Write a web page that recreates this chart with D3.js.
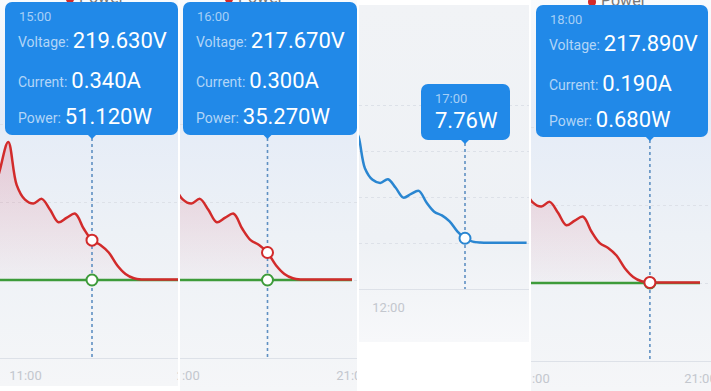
<!DOCTYPE html>
<html>
<head>
<meta charset="utf-8">
<script src="https://cdn.jsdelivr.net/npm/d3@7"></script>
<style>
  body { margin: 0; background: #fff; font-family: Roboto, "Noto Sans", sans-serif; }
  svg { display: block; }
</style>
</head>
<body>
<svg id="chart" width="711" height="391"></svg>
<script>
// half-hourly power readings (W)
const hours = [9, 9.5, 10, 10.5, 11, 11.5, 12, 12.5, 13, 13.5, 14, 14.5, 15, 15.5, 16, 16.5, 17, 17.5, 18, 18.5, 19, 19.5, 20, 20.5, 21];
const power = [95, 141, 177, 122, 103, 98, 104, 90, 74, 80, 85, 66, 51.12, 45, 35.27, 19, 7.76, 2.2, 0.68, 0.6, 0.6, 0.6, 0.6, 0.6, 0.6];
const gridPower = [0, 0, 0, 0, 0, 0, 0, 0, 0, 0, 0, 0, 0, 0, 0, 0, 0, 0, 0, 0, 0, 0, 0, 0, 0];

// tooltip readings, one per screenshot
const readingHours = [15, 16, 17, 18];
const readingLabels = ["15:00", "16:00", "17:00", "18:00"];
const voltages = [219.63, 217.67, null, 217.89];
const currents = [0.34, 0.3, null, 0.19];
const powerReadings = [51.12, 35.27, 7.76, 0.68];

const axisTicks = [11, 21];
const axisTicksBlue = [12];

const RED = "#d22b2b";
const GREEN = "#3d9b3a";
const BLUE = "#2a86d1";
const TIP = "#2189e8";

const panels = [
  { left: 0, right: 178, top: 0, bottom: 386, ticks: axisTicks, xDomain: [11, 21], xRange: [25, 192.5],
    yDomain: [-100, 200], gridStep: 100, axisY: 358, topY: 124, labelY: 380,
    tip: { x: 5, y: 2, w: 173, h: 133 }, legendX: 70, legendY: 3, color: RED, bg: "bgRed" },
  { left: 180, right: 357, top: 0, bottom: 391, ticks: axisTicks, xDomain: [11, 21], xRange: [183, 352],
    yDomain: [-100, 200], gridStep: 100, axisY: 358, topY: 124, labelY: 380,
    tip: { x: 183, y: 2, w: 174, h: 133 }, legendX: 229, legendY: 3, color: RED, bg: "bgRed" },
  { left: 359, right: 529, top: 5, bottom: 342, ticks: axisTicksBlue, xDomain: [12, 17], xRange: [388, 465],
    yDomain: [-75, 225], gridStep: 75, axisY: 289, topY: 105, labelY: 312,
    tip: { x: 421, y: 84, w: 89, h: 56 }, legendX: null, color: BLUE, bg: "bgBlue" },
  { left: 531, right: 711, top: 0, bottom: 391, ticks: axisTicks, xDomain: [11, 21], xRange: [533, 700],
    yDomain: [-100, 200], gridStep: 100, axisY: 361, topY: 127, labelY: 383,
    tip: { x: 536, y: 5, w: 172, h: 132 }, legendX: 592, legendY: 6, color: RED, bg: "bgRed" }
];

const svg = d3.select("#chart");
const defs = svg.append("defs");

const addGradient = (id, stops) => {
  const grad = defs.append("linearGradient").attr("id", id)
    .attr("x1", 0).attr("y1", 0).attr("x2", 0).attr("y2", 1);
  stops.forEach(([offset, color, opacity]) =>
    grad.append("stop").attr("offset", offset).attr("stop-color", color)
      .attr("stop-opacity", opacity === undefined ? 1 : opacity));
};
addGradient("bgRed", [[0, "#f9fbfd"], [0.3, "#e5ecf7"], [0.6, "#edf1f6"], [1, "#f5f6f8"]]);
addGradient("bgBlue", [[0, "#f1f3f6"], [0.7, "#eef1f5"], [1, "#f7f8fa"]]);
addGradient("areaRed", [[0, "#d8344c", 0.2], [1, "#d8344c", 0.02]]);

function drawPanel(p, i) {
  defs.append("clipPath").attr("id", "clip" + i).append("rect")
    .attr("x", p.left).attr("y", p.top)
    .attr("width", p.right - p.left).attr("height", p.bottom - p.top);

  const g = svg.append("g").attr("clip-path", `url(#clip${i})`);

  g.append("rect")
    .attr("x", p.left).attr("y", p.top)
    .attr("width", p.right - p.left).attr("height", p.bottom - p.top)
    .attr("fill", `url(#${p.bg})`);

  const x = d3.scaleLinear().domain(p.xDomain).range(p.xRange);
  const y = d3.scaleLinear().domain(p.yDomain).range([p.axisY, p.topY]);

  // horizontal grid
  const grid = g.append("g")
    .attr("transform", `translate(${p.left},0)`)
    .call(d3.axisLeft(y)
      .tickValues(d3.range(p.yDomain[0], p.yDomain[1] + 1, p.gridStep))
      .tickSize(-(p.right - p.left))
      .tickFormat(""));
  grid.select(".domain").remove();
  grid.selectAll(".tick line")
    .attr("stroke", "#dde1e8")
    .attr("stroke-dasharray", d => (d === p.yDomain[0] ? null : "3,3"));

  // time labels
  const xAxis = g.append("g")
    .attr("transform", `translate(0,${p.labelY})`)
    .call(d3.axisBottom(x).tickValues(p.ticks).tickSize(0).tickPadding(0).tickFormat(h => h + ":00"));
  xAxis.select(".domain").remove();
  xAxis.selectAll("text")
    .attr("dy", 0)
    .attr("fill", "#c3c7ce")
    .style("font-size", "13px")
    .style("font-family", "Roboto, sans-serif");

  const series = d3.zip(hours, power);
  const curve = d3.curveCatmullRom.alpha(0.5);
  const line = d3.line().x(d => x(d[0])).y(d => y(d[1])).curve(curve);

  if (p.color === RED) {
    const area = d3.area().x(d => x(d[0])).y0(y(0)).y1(d => y(d[1])).curve(curve);
    g.append("path").datum(series).attr("d", area).attr("fill", "url(#areaRed)");
    g.append("path").datum(d3.zip(hours, gridPower)).attr("d", line)
      .attr("fill", "none").attr("stroke", GREEN).attr("stroke-width", 2.5);
  }
  g.append("path").datum(series).attr("d", line)
    .attr("fill", "none").attr("stroke", p.color).attr("stroke-width", 2.5);

  // legend (mostly hidden behind the tooltip)
  if (p.legendX !== null) {
    g.append("circle").attr("cx", p.legendX).attr("cy", p.legendY - 4).attr("r", 4).attr("fill", RED);
    g.append("text").attr("x", p.legendX + 9).attr("y", p.legendY)
      .attr("fill", "#777").style("font-size", "16px").text("Power");
  }

  // pointer line
  const px = x(readingHours[i]);
  const tipBottom = p.tip.y + p.tip.h;
  g.append("line")
    .attr("x1", px).attr("x2", px)
    .attr("y1", tipBottom + 3).attr("y2", p.axisY)
    .attr("stroke", "#5f90c2").attr("stroke-width", 1.6).attr("stroke-dasharray", "3,3");

  // markers
  const markers = p.color === RED
    ? [[gridPower[hours.indexOf(readingHours[i])], GREEN], [powerReadings[i], RED]]
    : [[powerReadings[i], BLUE]];
  g.selectAll("circle.marker").data(markers).join("circle")
    .attr("class", "marker")
    .attr("cx", px).attr("cy", d => y(d[0])).attr("r", 5.5)
    .attr("fill", "#fff").attr("stroke", d => d[1]).attr("stroke-width", 2);

  // tooltip
  const t = p.tip;
  g.append("rect").attr("x", t.x).attr("y", t.y).attr("width", t.w).attr("height", t.h)
    .attr("rx", 7).attr("fill", TIP);
  g.append("path")
    .attr("d", `M${px - 4},${tipBottom} L${px},${tipBottom + 4} L${px + 4},${tipBottom} Z`)
    .attr("fill", TIP);

  const tip = g.append("g");
  tip.append("text").attr("x", t.x + 14).attr("y", t.y + 19)
    .attr("fill", "#a6cff6").style("font-size", "13px").text(readingLabels[i]);

  if (voltages[i] === null) {
    tip.append("text").attr("x", t.x + 14).attr("y", t.y + 44)
      .attr("fill", "#fff").style("font-size", "22px").text(powerReadings[i].toFixed(2) + "W");
    return;
  }

  const rows = [
    ["Voltage:", voltages[i].toFixed(3) + "V", 45],
    ["Current:", currents[i].toFixed(3) + "A", 85],
    ["Power:", powerReadings[i].toFixed(3) + "W", 121]
  ];
  rows.forEach(([label, value, dy]) => {
    const lab = tip.append("text").attr("x", t.x + 13).attr("y", t.y + dy)
      .attr("fill", "#b2d5f7").style("font-size", "14px").text(label);
    const w = lab.node().getComputedTextLength();
    tip.append("text").attr("x", t.x + 13 + w + 4).attr("y", t.y + dy + 1)
      .attr("fill", "#fff").style("font-size", "22px").text(value);
  });
}

panels.forEach(drawPanel);
</script>
</body>
</html>
